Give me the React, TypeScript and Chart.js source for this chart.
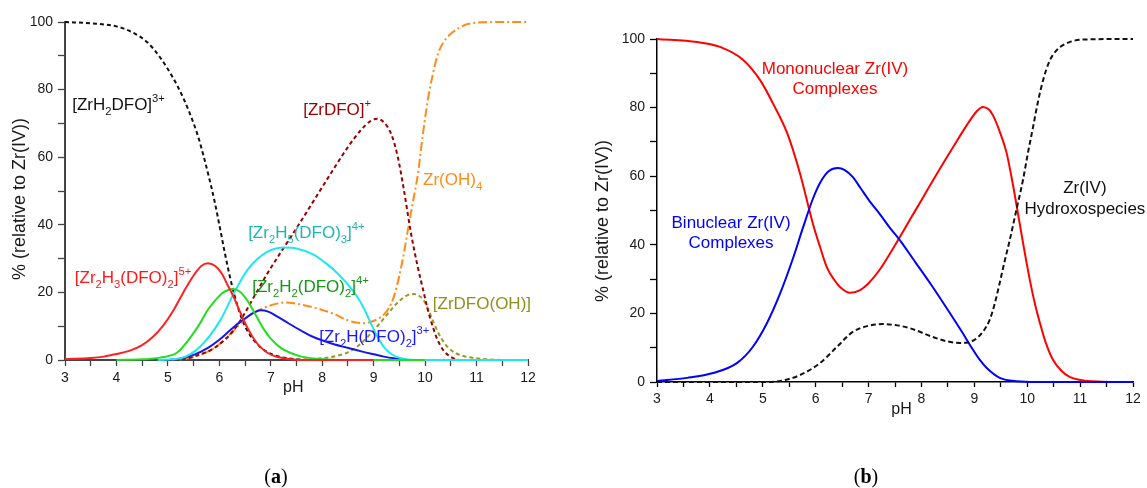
import React, { useEffect, useRef } from 'react';
import { Chart, registerables } from 'chart.js';
Chart.register(...registerables);

const FONT = '"Liberation Sans", Arial, sans-serif';
const SERIF = '"Liberation Serif", "DejaVu Serif", serif';

// ---------- Panel (a): species distribution ----------
const zrH2dfoPH = [3, 3.5, 4, 4.3, 4.6, 4.85, 5.1, 5.3, 5.5, 5.6, 5.7, 5.8, 5.9, 6.0, 6.1, 6.2, 6.3, 6.4, 6.5, 6.6, 6.8, 7.05, 7.4, 7.8, 12];
const zrH2dfoPct = [100, 99.6, 98.7, 97, 94, 89.5, 83.5, 77.5, 70, 65.5, 60, 54, 47.5, 40, 32.2, 25, 18.8, 13.8, 10, 7.3, 3.8, 1.5, 0.4, 0, 0];

const zr2H3PH = [3, 3.5, 3.75, 4.0, 4.25, 4.5, 4.7, 4.9, 5.1, 5.3, 5.5, 5.65, 5.78, 5.92, 6.05, 6.15, 6.28, 6.4, 6.54, 6.67, 6.8, 6.95, 7.13, 7.5, 8, 9];
const zr2H3Pct = [0.3, 0.6, 1.0, 1.8, 2.7, 4.4, 6.7, 10, 14.5, 20, 25, 27.8, 28.6, 27.8, 25.5, 22.5, 18.6, 14.3, 9.7, 6.3, 3.8, 2, 0.9, 0.1, 0, 0];

const zr2H2PH = [4.0, 4.5, 4.85, 5.18, 5.5, 5.65, 5.77, 5.9, 6.05, 6.17, 6.27, 6.4, 6.54, 6.7, 6.86, 7.0, 7.2, 7.4, 7.6, 8, 8.5, 10];
const zr2H2Pct = [0, 0.2, 0.7, 2.2, 8, 11.5, 14.7, 17.3, 19.7, 20.7, 21, 20.2, 17.7, 13.5, 9.2, 6.3, 3.5, 2, 1, 0.2, 0, 0];

const zr2H5PH = [4.8, 5.24, 5.63, 6.02, 6.28, 6.54, 6.75, 6.93, 7.1, 7.25, 7.5, 7.83, 8.1, 8.3, 8.5, 8.69, 8.82, 8.94, 9.07, 9.2, 9.35, 9.53, 9.8, 12];
const zr2H5Pct = [0, 0.5, 4, 11.8, 19.7, 26.5, 30, 32, 33, 33.3, 33, 31.2, 28.3, 25.6, 22.3, 18.5, 15, 11, 7, 3.8, 1.7, 0.5, 0, 0];

const zr2HPH = [5.0, 5.2, 5.5, 5.77, 6.0, 6.21, 6.4, 6.54, 6.68, 6.8, 6.95, 7.13, 7.35, 7.58, 7.83, 8.2, 8.49, 8.8, 9.0, 9.2, 9.39, 9.7, 12];
const zr2HPct = [0, 0.3, 1.5, 3.5, 6, 8.8, 11.2, 12.7, 14.1, 14.7, 14.3, 12.8, 10.8, 8.8, 6.8, 4.8, 3.6, 2.4, 1.7, 1.0, 0.5, 0, 0];

const zrDfoPH = [5.0, 5.37, 5.6, 5.9, 6.28, 6.5, 6.67, 6.93, 7.2, 7.5, 7.83, 8.2, 8.5, 8.75, 8.95, 9.07, 9.2, 9.35, 9.47, 9.58, 9.72, 9.85, 9.95, 10.05, 10.15, 10.24, 10.35, 10.5, 10.7, 12];
const zrDfoPct = [0, 0.5, 1.5, 3.5, 8.8, 14, 18.6, 25.5, 32, 39, 47, 56, 63, 68, 70.8, 71.4, 70.3, 66.5, 60, 51, 38, 28, 21.5, 15, 9.8, 6, 3, 0.9, 0, 0];

const zrOH4PH = [5.0, 5.3, 5.63, 5.9, 6.15, 6.35, 6.54, 6.75, 6.93, 7.1, 7.25, 7.45, 7.65, 7.83, 8.0, 8.2, 8.49, 8.65, 8.8, 8.95, 9.1, 9.22, 9.3, 9.39, 9.5, 9.58, 9.66, 9.76, 9.86, 9.95, 10.05, 10.15, 10.25, 10.37, 10.5, 10.65, 10.83, 11.1, 11.5, 12];
const zrOH4Pct = [0, 0.3, 1.5, 3.5, 6.8, 9.8, 12.7, 14.6, 15.8, 16.6, 17, 16.8, 16.2, 15.6, 14.8, 13.8, 11.8, 11.1, 10.9, 11.3, 12.3, 13.8, 15.5, 18.6, 25, 31, 38, 46.5, 55, 66, 76.7, 84.5, 90.6, 94.3, 96.5, 98.2, 99.4, 99.9, 100, 100];

const zrDfoOHPH = [7.5, 7.97, 8.25, 8.49, 8.7, 8.88, 9.1, 9.33, 9.5, 9.65, 9.78, 9.88, 9.97, 10.07, 10.17, 10.3, 10.44, 10.6, 10.83, 11.2, 11.6, 12];
const zrDfoOHPct = [0, 0.5, 1.1, 2.2, 4.2, 6.8, 10.5, 14.7, 17.5, 19.1, 19.5, 19, 17.7, 14.6, 10.9, 6.8, 3.8, 2, 0.9, 0.2, 0, 0];

// ---------- Panel (b): grouped species ----------
const monoPH = [3, 3.76, 4.19, 4.63, 4.95, 5.19, 5.46, 5.7, 5.95, 6.08, 6.21, 6.35, 6.46, 6.65, 6.84, 7.0, 7.2, 7.4, 7.6, 7.8, 8.0, 8.2, 8.4, 8.6, 8.8, 8.95, 9.05, 9.16, 9.27, 9.35, 9.48, 9.61, 9.73, 9.86, 9.95, 10.05, 10.15, 10.24, 10.35, 10.49, 10.65, 10.8, 11.0, 11.24, 11.6, 12];
const monoPct = [100, 99.1, 97.7, 93.9, 88, 81.3, 72.6, 61, 46, 39.5, 33.5, 29.8, 27.7, 26, 26.8, 28.8, 32.5, 37.3, 42.5, 47.8, 53, 58.3, 63.5, 68.5, 73.5, 77, 79, 80.2, 79.5, 77.8, 73, 66.8, 57.5, 46, 38, 29.7, 22.5, 17.2, 11.5, 6.4, 3.2, 1.5, 0.6, 0.2, 0, 0];

const binuPH = [3, 3.57, 4.06, 4.51, 4.81, 5.08, 5.33, 5.57, 5.76, 5.95, 6.1, 6.25, 6.42, 6.55, 6.7, 6.85, 7.03, 7.21, 7.4, 7.57, 7.9, 8.2, 8.5, 8.75, 8.95, 9.1, 9.24, 9.48, 9.8, 10.2, 12];
const binuPct = [0.3, 1.2, 2.6, 5.5, 10.2, 17.2, 25.9, 36, 45, 53.5, 58.5, 61.5, 62.4, 61.8, 59.8, 56.5, 52.5, 49, 45, 41.8, 34.6, 28, 21, 15, 10, 6.5, 4, 1.2, 0.2, 0, 0];

const hydroPH = [3, 5.0, 5.33, 5.7, 6.08, 6.4, 6.7, 7.0, 7.27, 7.5, 7.78, 8.22, 8.5, 8.73, 8.9, 9.05, 9.18, 9.29, 9.38, 9.48, 9.57, 9.67, 9.8, 9.92, 10.01, 10.11, 10.2, 10.3, 10.42, 10.56, 10.8, 11.2, 12];
const hydroPct = [0, 0, 0.3, 2, 5.5, 10.2, 14.6, 16.4, 16.9, 16.6, 15.7, 13.1, 11.8, 11.4, 11.6, 12.8, 15, 18.1, 22.5, 28.9, 35, 41.4, 50.5, 58.9, 66.5, 74.3, 81.5, 88, 93.5, 96.8, 99.1, 99.9, 100];

const xTickLabels = ['3', '4', '5', '6', '7', '8', '9', '10', '11', '12'];
const yTickLabels = ['0', '20', '40', '60', '80', '100'];

type Part = [string, number]; // 0 normal, 1 subscript, 2 superscript

const pts = (xs: number[], ys: number[]) => xs.map((x, i) => ({ x, y: ys[i] }));

function drawRich(ctx: CanvasRenderingContext2D, parts: Part[], x: number, y: number, size: number, color: string) {
  let cx = x;
  ctx.fillStyle = color;
  ctx.textAlign = 'left';
  ctx.textBaseline = 'alphabetic';
  for (const [t, m] of parts) {
    const s = m ? size * 0.66 : size;
    ctx.font = `${s}px ${FONT}`;
    const dy = m === 1 ? size * 0.3 : m === 2 ? -size * 0.45 : 0;
    ctx.fillText(t, cx, y + dy);
    cx += ctx.measureText(t).width;
  }
}

function scaleOpts(axis: 'x' | 'y', color: string, borderW: number, tickLen: number, pad: number, size: number) {
  const isX = axis === 'x';
  return {
    type: 'linear',
    min: isX ? 3 : 0,
    max: isX ? 12 : 100,
    ticks: {
      stepSize: isX ? 0.5 : 10,
      autoSkip: false,
      maxRotation: 0,
      padding: pad,
      color: '#1a1a1a',
      font: { family: FONT, size },
      callback: (v: number) => {
        const s = String(v);
        if (isX) return xTickLabels.includes(s) ? s : '';
        return yTickLabels.includes(s) ? s : '';
      },
    },
    grid: { drawOnChartArea: false, drawTicks: true, tickLength: tickLen, tickWidth: 1.3, tickColor: color },
    border: { display: true, color, width: borderW },
  };
}

const labelsA: { parts: Part[]; x: number; y: number; color: string }[] = [
  { parts: [['[ZrH', 0], ['2', 1], ['DFO]', 0], ['3+', 2]], x: 3.14, y: 74, color: '#111111' },
  { parts: [['[ZrDFO]', 0], ['+', 2]], x: 7.63, y: 72.5, color: '#990000' },
  { parts: [['Zr(OH)', 0], ['4', 1]], x: 9.96, y: 51.8, color: '#ff8c1a' },
  { parts: [['[Zr', 0], ['2', 1], ['H', 0], ['5', 1], ['(DFO)', 0], ['3', 1], [']', 0], ['4+', 2]], x: 6.56, y: 36.1, color: '#1fb5b5' },
  { parts: [['[Zr', 0], ['2', 1], ['H', 0], ['3', 1], ['(DFO)', 0], ['2', 1], [']', 0], ['5+', 2]], x: 3.19, y: 22.8, color: '#ff1a1a' },
  { parts: [['[Zr', 0], ['2', 1], ['H', 0], ['2', 1], ['(DFO)', 0], ['2', 1], [']', 0], ['4+', 2]], x: 6.64, y: 20.1, color: '#119911' },
  { parts: [['[ZrDFO(OH)]', 0]], x: 10.15, y: 15.1, color: '#8f8f1f' },
  { parts: [['[Zr', 0], ['2', 1], ['H(DFO)', 0], ['2', 1], [']', 0], ['3+', 2]], x: 7.94, y: 5.3, color: '#1a1aff' },
];

const labelsB: { lines: string[]; x: number; y: number; color: string }[] = [
  { lines: ['Mononuclear Zr(IV)', 'Complexes'], x: 6.365, y: 89.8, color: '#ff0000' },
  { lines: ['Binuclear Zr(IV)', 'Complexes'], x: 4.4, y: 44.9, color: '#0000ff' },
  { lines: ['Zr(IV)', 'Hydroxospecies'], x: 11.09, y: 55.1, color: '#111111' },
];

function drawCommon(chart: any, yTitleX: number, yTitleY: number, pHx: number, pHy: number, capX: number, cap: string) {
  const ctx: CanvasRenderingContext2D = chart.ctx;
  ctx.save();
  ctx.fillStyle = '#1a1a1a';
  ctx.font = `18px ${FONT}`;
  ctx.translate(yTitleX, yTitleY);
  ctx.rotate(-Math.PI / 2);
  ctx.textAlign = 'center';
  ctx.textBaseline = 'middle';
  ctx.fillText('% (relative to Zr(IV))', 0, 0);
  ctx.restore();

  ctx.save();
  ctx.fillStyle = '#1a1a1a';
  ctx.font = `16px ${FONT}`;
  ctx.textAlign = 'left';
  ctx.textBaseline = 'top';
  ctx.fillText('pH', pHx, pHy);
  ctx.restore();

  ctx.save();
  ctx.fillStyle = '#000';
  ctx.textBaseline = 'alphabetic';
  ctx.textAlign = 'left';
  ctx.font = `20px ${SERIF}`;
  const pw = ctx.measureText('(').width;
  ctx.font = `bold 20px ${SERIF}`;
  const lw = ctx.measureText(cap).width;
  const total = pw * 2 + lw;
  let cx = capX - total / 2;
  ctx.font = `20px ${SERIF}`;
  ctx.fillText('(', cx, 483);
  cx += pw;
  ctx.font = `bold 20px ${SERIF}`;
  ctx.fillText(cap, cx, 483);
  cx += lw;
  ctx.font = `20px ${SERIF}`;
  ctx.fillText(')', cx, 483);
  ctx.restore();
}

const pluginA = {
  id: 'textA',
  afterDraw(chart: any) {
    const ctx = chart.ctx;
    const xs = chart.scales.x;
    const ys = chart.scales.y;
    ctx.save();
    for (const l of labelsA) {
      drawRich(ctx, l.parts, xs.getPixelForValue(l.x), ys.getPixelForValue(l.y), 17, l.color);
    }
    ctx.restore();
    drawCommon(chart, 20, 199, xs.getPixelForValue(7.24), chart.chartArea.bottom + 20, 276, 'a');
  },
};

const pluginB = {
  id: 'textB',
  afterDraw(chart: any) {
    const ctx = chart.ctx;
    const xs = chart.scales.x;
    const ys = chart.scales.y;
    ctx.save();
    ctx.font = `17px ${FONT}`;
    ctx.textAlign = 'center';
    ctx.textBaseline = 'alphabetic';
    for (const l of labelsB) {
      ctx.fillStyle = l.color;
      const px = xs.getPixelForValue(l.x);
      const py = ys.getPixelForValue(l.y);
      l.lines.forEach((t, i) => ctx.fillText(t, px, py + i * 20.5));
    }
    ctx.restore();
    drawCommon(chart, 33, 221, xs.getPixelForValue(7.43), chart.chartArea.bottom + 20, 866 - 570, 'b');
  },
};

function makeDs(data: any, color: string, dash: number[] = []) {
  return {
    data, borderColor: color, borderWidth: 2, borderDash: dash, pointRadius: 0, fill: false,
    cubicInterpolationMode: 'monotone', clip: 4,
  };
}

function ChartA() {
  const ref = useRef<HTMLCanvasElement>(null);
  useEffect(() => {
    const chart = new Chart(ref.current!, {
      type: 'line',
      data: {
        datasets: [
          makeDs(pts(zr2H3PH, zr2H3Pct), '#ff2020'),
          makeDs(pts(zr2H2PH, zr2H2Pct), '#22dd22'),
          makeDs(pts(zr2H5PH, zr2H5Pct), '#1ee8ee'),
          makeDs(pts(zr2HPH, zr2HPct), '#1515ee'),
          makeDs(pts(zrDfoPH, zrDfoPct), '#990000', [4, 3]),
          makeDs(pts(zrOH4PH, zrOH4Pct), '#ff8c1a', [9, 3, 2, 3]),
          makeDs(pts(zrDfoOHPH, zrDfoOHPct), '#999922', [4, 3]),
          makeDs(pts(zrH2dfoPH, zrH2dfoPct), '#111111', [4, 3]),
        ] as any,
      },
      options: {
        responsive: false,
        animation: false,
        layout: { padding: { left: 0, top: 22, right: 42, bottom: 68 } },
        plugins: { legend: { display: false }, tooltip: { enabled: false } },
        scales: {
          x: { ...scaleOpts('x', '#444', 2, 6, 4, 14), afterFit: (s: any) => { s.height = 60; } },
          y: { ...scaleOpts('y', '#444', 2, 7, 5, 14), afterFit: (s: any) => { s.width = 65; } },
        } as any,
      },
      plugins: [pluginA],
    });
    return () => chart.destroy();
  }, []);
  return <canvas ref={ref} width={570} height={488} style={{ position: 'absolute', left: 0, top: 0, width: 570, height: 488 }} />;
}

function ChartB() {
  const ref = useRef<HTMLCanvasElement>(null);
  useEffect(() => {
    const chart = new Chart(ref.current!, {
      type: 'line',
      data: {
        datasets: [
          makeDs(pts(hydroPH, hydroPct), '#111111', [5, 3]),
          makeDs(pts(binuPH, binuPct), '#0000ff'),
          makeDs(pts(monoPH, monoPct), '#ff0000'),
        ] as any,
      },
      options: {
        responsive: false,
        animation: false,
        layout: { padding: { left: 0, top: 39, right: 14, bottom: 46 } },
        plugins: { legend: { display: false }, tooltip: { enabled: false } },
        scales: {
          x: { ...scaleOpts('x', '#000', 1.5, 5, 4, 14), afterFit: (s: any) => { s.height = 60; } },
          y: { ...scaleOpts('y', '#000', 1.5, 7, 5, 14), afterFit: (s: any) => { s.width = 87; } },
        } as any,
      },
      plugins: [pluginB],
    });
    return () => chart.destroy();
  }, []);
  return <canvas ref={ref} width={577} height={488} style={{ position: 'absolute', left: 570, top: 0, width: 577, height: 488 }} />;
}

export default function App() {
  return (
    <div style={{ position: 'absolute', left: 0, top: 0, width: 1147, height: 488, background: '#fff', overflow: 'hidden' }}>
      <ChartA />
      <ChartB />
    </div>
  );
}
